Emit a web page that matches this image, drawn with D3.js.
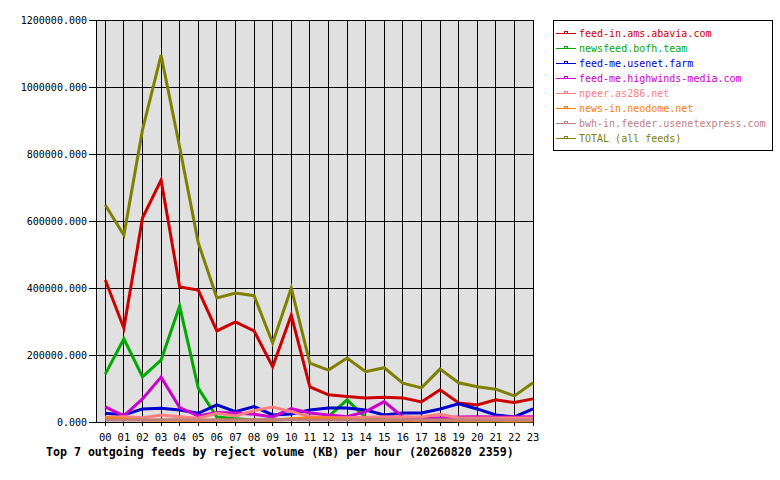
<!DOCTYPE html>
<html>
<head>
<meta charset="utf-8">
<script src="https://cdn.jsdelivr.net/npm/d3@7"></script>
<style>
  body { margin: 0; background: #fff; }
  svg { display: block; }
</style>
</head>
<body>
<div id="chart"></div>
<script>
// hours on the x axis
const hours = ["00","01","02","03","04","05","06","07","08","09","10","11",
               "12","13","14","15","16","17","18","19","20","21","22","23"];

// reject volume in KB per hour
const abavia    = [424000, 280000, 609000, 722000, 403000, 394000, 272000, 299000, 272000, 165000, 319000, 105000,
                   81000, 76000, 72000, 74000, 72000, 60000, 96000, 57000, 51000, 66000, 58000, 69000];
const bofh      = [143000, 248000, 135000, 185000, 346000, 101000, 15000, 10000, 6000, 6000, 8000, 10000,
                   16000, 66000, 13000, 6000, 5000, 5000, 5000, 4000, 4000, 4000, 4000, 4000];
const usenetFarm = [26000, 21000, 39000, 41000, 36000, 26000, 51000, 31000, 46000, 21000, 24000, 36000,
                   42000, 42000, 36000, 21000, 27000, 27000, 39000, 54000, 39000, 21000, 15000, 39000];
const highwinds = [45000, 18000, 69000, 134000, 43000, 18000, 28000, 27000, 23000, 15000, 40000, 27000,
                   21000, 16000, 31000, 61000, 15000, 12000, 12000, 15000, 16000, 15000, 15000, 16000];
const as286     = [14000, 16000, 13000, 21000, 16000, 11000, 26000, 18000, 34000, 45000, 31000, 16000,
                   13000, 13000, 14000, 16000, 15000, 15000, 23000, 12000, 12000, 12000, 12000, 12000];
const neodome   = [12000, 9000, 6000, 5000, 5000, 4000, 6000, 5000, 6000, 5000, 10000, 12000,
                   12000, 8000, 5000, 6000, 5000, 4000, 6000, 4000, 4000, 4000, 3000, 4000];
const usenetExpress = [6000, 6000, 6000, 7000, 7000, 6000, 6000, 6000, 6000, 7000, 7000, 6000,
                   6000, 6000, 6000, 6000, 6000, 6000, 6000, 6000, 6000, 6000, 6000, 6000];
const total     = [648000, 558000, 872000, 1095000, 820000, 535000, 370000, 385000, 377000, 236000, 400000, 176000,
                   155000, 191000, 150000, 162000, 116000, 102000, 158000, 117000, 105000, 98000, 78000, 117000];

const feedNames = ["feed-in.ams.abavia.com", "newsfeed.bofh.team", "feed-me.usenet.farm",
                   "feed-me.highwinds-media.com", "npeer.as286.net", "news-in.neodome.net",
                   "bwh-in.feeder.usenetexpress.com", "TOTAL (all feeds)"];
const feedValues = [abavia, bofh, usenetFarm, highwinds, as286, neodome, usenetExpress, total];
const feedColors = ["#cc0000", "#00aa00", "#0000cc", "#cc00cc", "#ff8080", "#ff8000", "#c08080", "#808000"];

const yTicks = [0, 200000, 400000, 600000, 800000, 1000000, 1200000];
const title = "Top 7 outgoing feeds by reject volume (KB) per hour (20260820 2359)";

const width = 780, height = 480;
const plot = {left: 96, right: 533, top: 20, bottom: 422};
const mono = "'DejaVu Sans Mono', 'Liberation Mono', monospace";

const svg = d3.select("#chart")
    .append("svg")
    .attr("width", width)
    .attr("height", height)
    .attr("viewBox", `0 0 ${width} ${height}`);

const x = d3.scaleLinear().domain([-0.5, 23]).range([plot.left, plot.right]);
const y = d3.scaleLinear().domain([0, 1200000]).range([plot.bottom, plot.top]);

// plot background
svg.append("rect")
    .attr("x", plot.left)
    .attr("y", plot.top)
    .attr("width", plot.right - plot.left)
    .attr("height", plot.bottom - plot.top)
    .attr("fill", "#e0e0e0");

// grid
const grid = svg.append("g")
    .attr("stroke", "#000")
    .attr("stroke-width", 1)
    .attr("shape-rendering", "crispEdges");

grid.selectAll("line.v")
    .data(hours)
    .join("line")
    .attr("class", "v")
    .attr("x1", (d, i) => x(i))
    .attr("x2", (d, i) => x(i))
    .attr("y1", plot.top)
    .attr("y2", plot.bottom + 4);

grid.selectAll("line.h")
    .data(yTicks)
    .join("line")
    .attr("class", "h")
    .attr("x1", plot.left - 7)
    .attr("x2", plot.right)
    .attr("y1", d => y(d))
    .attr("y2", d => y(d));

// frame
svg.append("rect")
    .attr("x", plot.left)
    .attr("y", plot.top)
    .attr("width", plot.right - plot.left)
    .attr("height", plot.bottom - plot.top)
    .attr("fill", "none")
    .attr("stroke", "#000")
    .attr("shape-rendering", "crispEdges");

// axis labels
svg.append("g")
    .attr("font-family", mono)
    .attr("font-size", 10)
    .attr("text-anchor", "end")
    .selectAll("text")
    .data(yTicks)
    .join("text")
    .attr("x", plot.left - 9)
    .attr("y", d => y(d))
    .attr("dy", "0.35em")
    .text(d => d3.format(".3f")(d));

svg.append("g")
    .attr("font-family", mono)
    .attr("font-size", 10.5)
    .attr("text-anchor", "middle")
    .selectAll("text")
    .data(hours)
    .join("text")
    .attr("x", (d, i) => x(i))
    .attr("y", plot.bottom + 15)
    .attr("dy", "0.35em")
    .text(d => d);

svg.append("text")
    .attr("x", 46)
    .attr("y", plot.bottom + 30)
    .attr("dy", "0.35em")
    .attr("font-family", mono)
    .attr("font-size", 11.6)
    .attr("font-weight", "bold")
    .text(title);

// series
const line = d3.line()
    .x((d, i) => x(i))
    .y(d => y(d));

svg.append("g")
    .attr("fill", "none")
    .attr("stroke-width", 3)
    .attr("stroke-linejoin", "miter")
    .selectAll("path")
    .data(feedValues)
    .join("path")
    .attr("stroke", (d, i) => feedColors[i])
    .attr("d", line);

// legend
const legend = svg.append("g").attr("transform", "translate(553,20)");
legend.append("rect")
    .attr("x", 0.5)
    .attr("y", 0.5)
    .attr("width", 219)
    .attr("height", 130)
    .attr("fill", "#fff")
    .attr("stroke", "#000");

const items = legend.selectAll("g.item")
    .data(feedNames)
    .join("g")
    .attr("class", "item")
    .attr("transform", (d, i) => `translate(0,${13 + i * 15})`);

items.append("rect")
    .attr("x", 3).attr("y", 0)
    .attr("width", 20).attr("height", 1)
    .attr("fill", (d, i) => feedColors[i]);

items.append("rect")
    .attr("x", 11.5).attr("y", -1.5)
    .attr("width", 3).attr("height", 2)
    .attr("fill", "#fff")
    .attr("stroke", (d, i) => feedColors[i])
    .attr("stroke-width", 1);

items.append("text")
    .attr("x", 26)
    .attr("y", 0.5)
    .attr("dy", "0.35em")
    .attr("font-family", mono)
    .attr("font-size", 10)
    .attr("fill", (d, i) => feedColors[i])
    .text(d => d);
</script>
</body>
</html>
